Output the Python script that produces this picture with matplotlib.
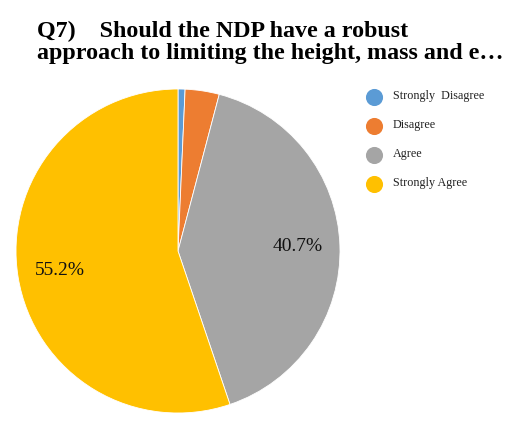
import matplotlib
matplotlib.use("Agg")
import matplotlib.pyplot as plt
from matplotlib.lines import Line2D

categories = ["Strongly  Disagree", "Disagree", "Agree", "Strongly Agree"]
shares = [0.7, 3.4, 40.7, 55.2]
colours = ["#5B9BD5", "#ED7D31", "#A5A5A5", "#FFC000"]
title_lines = ["Q7)    Should the NDP have a robust",
               "approach to limiting the height, mass and e\u2026"]

plt.rcParams["font.family"] = ["Liberation Serif", "DejaVu Serif"]

W, H = 508, 436
fig = plt.figure(figsize=(W / 100, H / 100), dpi=100)

# pie placed by pixel box: centre (178, 251), radius 162
cx, cy, r = 178, 251, 162
ax = fig.add_axes([(cx - r) / W, (H - cy - r) / H, 2 * r / W, 2 * r / H])


def pct_label(p):
    return f"{p:.1f}%" if p > 10 else ""


wedges, _, autotexts = ax.pie(
    shares, colors=colours, startangle=90, counterclock=False,
    autopct=pct_label, pctdistance=0.74,
    wedgeprops=dict(edgecolor="white", linewidth=0.6),
    textprops=dict(fontsize=14, color="#111111"),
)
ax.set_aspect("equal")
ax.set_xlim(-1, 1)
ax.set_ylim(-1, 1)

# two-line bold title, baselines set separately
for line, base in zip(title_lines, [37, 58.5]):
    fig.text(37 / W, 1 - base / H, line, fontsize=17.3, fontweight="bold",
             va="baseline", ha="left", color="#000000")

# legend drawn as circles with labels
ys = [97, 126.5, 155.5, 184.5]
for name, col, y in zip(categories, colours, ys):
    fig.add_artist(Line2D([374 / W], [1 - y / H], marker="o", markersize=11.3,
                          color=col, linestyle="none", transform=fig.transFigure))
    fig.text(393 / W, 1 - (y - 1.5) / H, name, fontsize=8.7, va="center",
             ha="left", color="#222222")

fig.savefig("out.png", dpi=100)
